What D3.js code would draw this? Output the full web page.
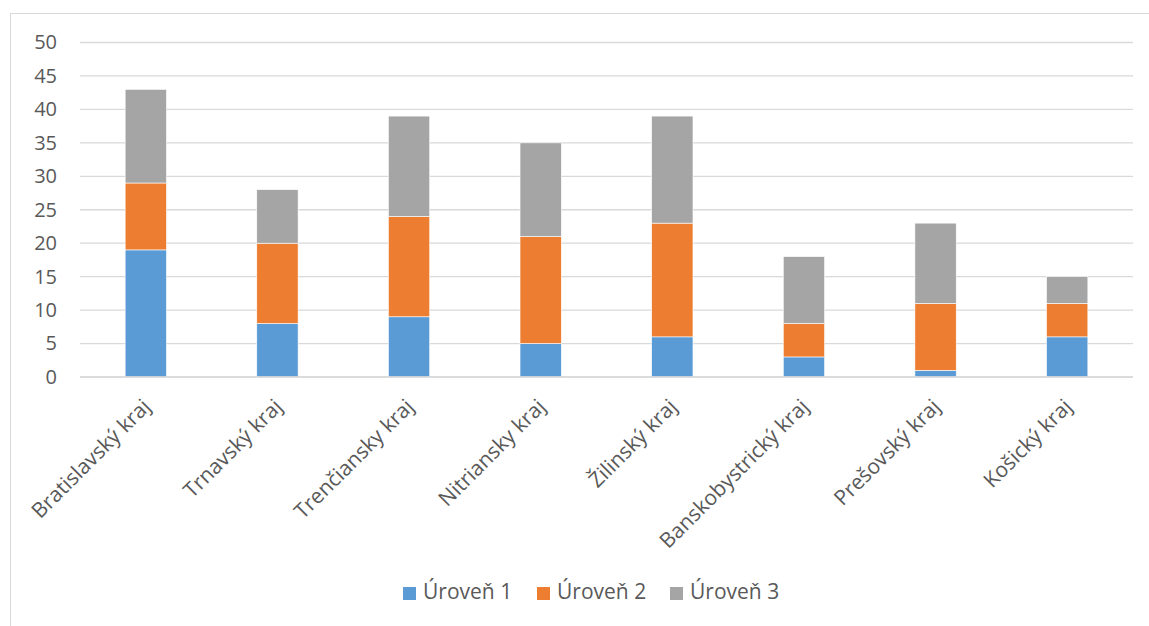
<!DOCTYPE html>
<html><head><meta charset="utf-8">
<script src="https://cdn.jsdelivr.net/npm/d3@7"></script>
<style>body{margin:0;background:#fff}svg{display:block}</style>
</head><body>
<svg id="c" width="1149" height="626"></svg>
<script>
const categories = ["Bratislavský kraj","Trnavský kraj","Trenčiansky kraj","Nitriansky kraj","Žilinský kraj","Banskobystrický kraj","Prešovský kraj","Košický kraj"];
const seriesNames = ["Úroveň 1","Úroveň 2","Úroveň 3"];
const uroven1 = [19, 8, 9, 5, 6, 3, 1, 6];
const uroven2 = [10, 12, 15, 16, 17, 5, 10, 5];
const uroven3 = [14, 8, 15, 14, 16, 10, 12, 4];
const yTicks = [0,5,10,15,20,25,30,35,40,45,50];
const colors = ["#5b9bd5","#ed7d31","#a5a5a5"];

const svg = d3.select("#c");
const font = "'Open Sans', sans-serif";
svg.append("rect").attr("x",10.5).attr("y",13.5).attr("width",1160).attr("height",640)
  .attr("fill","#fff").attr("stroke","#d9d9d9");

const x = d3.scaleBand().domain(categories).range([80,1133]).paddingInner(0.686).paddingOuter(0.343);
const y = d3.scaleLinear().domain([0,50]).range([377,42.5]);

const g = svg.append("g");
g.selectAll("line.grid").data(yTicks).join("line")
  .attr("x1",80).attr("x2",1133).attr("y1",d=>y(d)).attr("y2",d=>y(d))
  .attr("stroke","#d9d9d9").attr("stroke-width",1.3);

const data = categories.map((c,i)=>({cat:c, "Úroveň 1":uroven1[i], "Úroveň 2":uroven2[i], "Úroveň 3":uroven3[i]}));
const stack = d3.stack().keys(seriesNames)(data);
stack.forEach((s,si)=>{
  g.selectAll("rect.s"+si).data(s).join("rect")
    .attr("x",d=>x(d.data.cat)).attr("width",x.bandwidth())
    .attr("y",d=>y(d[1])).attr("height",d=>y(d[0])-y(d[1]))
    .attr("fill",colors[si]).attr("stroke","#fff").attr("stroke-width",0.6);
});

const yAxis = svg.append("g").attr("transform","translate(57,0)")
  .call(d3.axisLeft(y).tickValues(yTicks).tickSize(0).tickPadding(0));
yAxis.select(".domain").remove();
yAxis.selectAll("text").attr("font-family",font).attr("font-size",20).attr("fill","#595959");

const xAxis = svg.append("g").attr("transform","translate(0,377)")
  .call(d3.axisBottom(x).tickSize(0).tickPadding(0));
xAxis.select(".domain").attr("stroke","#d9d9d9").attr("stroke-width",1.3).attr("d","M80,0H1133");
xAxis.selectAll("text")
  .attr("font-family",font).attr("font-size",21).attr("fill","#595959")
  .attr("text-anchor","end").attr("dy",null).attr("y",0)
  .attr("transform","translate(2,27) rotate(-45)")
  .attr("dominant-baseline","middle");

const leg = svg.append("g");
const legX = [403, 537, 670];
seriesNames.forEach((n,i)=>{
  leg.append("rect").attr("x",legX[i]).attr("y",587).attr("width",13).attr("height",13).attr("fill",colors[i]);
  leg.append("text").attr("x",legX[i]+20).attr("y",593).attr("dominant-baseline","middle")
    .attr("font-family",font).attr("font-size",21).attr("fill","#595959").text(n);
});
</script>
</body></html>
